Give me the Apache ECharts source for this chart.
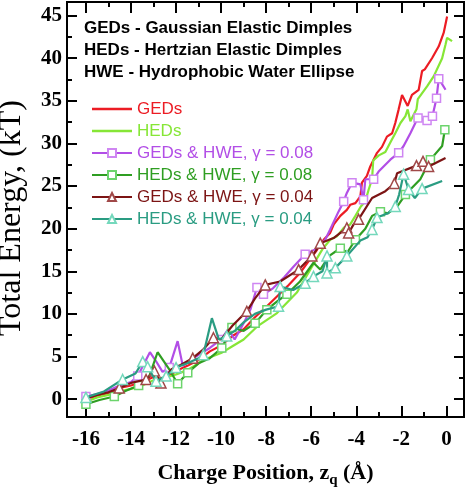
<!DOCTYPE html>
<html><head><meta charset="utf-8">
<script src="https://cdn.jsdelivr.net/npm/echarts@6/dist/echarts.min.js"></script>
<style>html,body{margin:0;padding:0;background:#fff}#c{width:466px;height:493px}</style>
</head><body><div id="c"></div>
<script>
// ---- tick values ----
const xMajor = [-16,-14,-12,-10,-8,-6,-4,-2,0];
const xMinor = [-15,-13,-11,-9,-7,-5,-3,-1];
const yMajor = [0,5,10,15,20,25,30,35,40,45];
const yMinor = [2.5,7.5,12.5,17.5,22.5,27.5,32.5,37.5,42.5];

// ---- series names / texts ----
const names = ['GEDs','HEDs','GEDs & HWE, \u03B3 = 0.08','HEDs & HWE, \u03B3 = 0.08','GEDs & HWE, \u03B3 = 0.04','HEDs & HWE, \u03B3 = 0.04'];
const notes = ['GEDs - Gaussian Elastic Dimples','HEDs - Hertzian Elastic Dimples','HWE - Hydrophobic Water Ellipse'];
const yTitle = 'Total Energy, (kT)';

// ---- data [charge position, total energy] ----
const gedPts = [[-16,0],[-15.5,0.4],[-15,0.7],[-14.5,1.3],[-14,1.6],[-13.5,2.0],[-13,2.6],[-12.5,2.3],[-12,3.3],[-11.5,3.9],[-11,4.6],[-10.5,5.6],[-10,6.3],[-9.5,7.4],[-9,8.2],[-8.5,9.6],[-8,10.8],[-7.5,12.1],[-7,13.4],[-6.5,14.8],[-6,16.6],[-5.75,17.5],[-5.45,18.7],[-5.16,19.5],[-5,20.5],[-4.71,21.5],[-4.42,22.2],[-4.27,22.8],[-4.04,23.0],[-3.82,23.8],[-3.75,25.4],[-3.53,26.2],[-3.38,27.3],[-3.08,28.9],[-2.86,29.6],[-2.64,30.8],[-2.41,31.2],[-2.27,32.4],[-2.12,34.0],[-1.97,35.7],[-1.72,34.4],[-1.53,35.7],[-1.23,36.3],[-1.08,38.5],[-0.96,38.7],[-0.64,40.0],[-0.34,41.4],[-0.12,43.0],[0.03,44.9]];
const hedPts = [[-16,-0.3],[-15.5,0.2],[-15,0.5],[-14.5,0.9],[-14,1.2],[-13.5,1.6],[-13,2.2],[-12.5,2.5],[-12,2.9],[-11.5,3.4],[-11,4.2],[-10.8,4.6],[-10,5.4],[-9.5,6.2],[-9,7.0],[-8.41,8.5],[-7.52,10.1],[-6.64,12.5],[-6,15.4],[-5.5,17.6],[-5.16,18.7],[-4.86,19.1],[-4.56,20.1],[-4.27,20.5],[-4.04,21.5],[-3.8,22.6],[-3.6,23.2],[-3.45,24.6],[-3.3,25.8],[-3.25,28.0],[-3.0,28.6],[-2.71,29.0],[-2.49,30.1],[-2.27,31.2],[-2.04,32.4],[-1.82,33.2],[-1.72,34.0],[-1.6,32.6],[-1.33,34.0],[-1.27,35.2],[-0.86,36.7],[-0.56,37.9],[-0.19,40.0],[-0.04,41.6],[0.03,42.4],[0.25,42.0]];
const gedHwe08Pts = [[-16,0.3],[-15.5,0.6],[-15,1.0],[-14.5,1.6],[-14,2.0],[-13.7,2.7],[-13.16,5.5],[-12.9,4.5],[-12.6,3.2],[-12.3,3.7],[-11.93,6.8],[-11.7,3.9],[-11.4,4.5],[-11,5.2],[-10.5,6.0],[-10,7.0],[-9.68,8.2],[-9.4,7.0],[-9,8.9],[-8.7,10.5],[-8.41,13.1],[-8.12,12.3],[-7.7,13.0],[-7.2,14.3],[-6.8,15.5],[-6.27,17.0],[-5.8,17.6],[-5.38,18.7],[-5.16,19.9],[-4.79,22.0],[-4.56,23.2],[-4.42,24.2],[-4.19,25.4],[-3.82,25.2],[-3.68,23.4],[-3.6,25.8],[-3.23,25.8],[-3.01,26.7],[-2.49,28.1],[-2.12,28.9],[-1.9,29.7],[-1.6,31.2],[-1.38,32.4],[-1.26,33.0],[-0.86,32.7],[-0.62,33.2],[-0.44,35.3],[-0.34,37.6],[-0.04,36.3]];
const gedHwe08Marks = [-16,-13.7,-12.3,-10,-8.41,-8.12,-6.27,-4.56,-4.19,-3.68,-3.23,-2.12,-1.26,-0.86,-0.62,-0.44,-0.34];
const hedHwe08Pts = [[-16,-0.6],[-15.4,-0.1],[-14.74,0.3],[-14.2,1.0],[-13.66,1.6],[-13.2,2.6],[-12.82,5.5],[-12.3,3.5],[-11.93,1.8],[-11.48,3.1],[-11,4.2],[-10.5,4.8],[-9.97,6.0],[-9.52,8.4],[-9,8.0],[-8.49,8.9],[-7.97,10.5],[-7.5,11.5],[-7.08,12.3],[-6.5,13.8],[-5.9,16.0],[-5.6,15.2],[-5.2,16.8],[-4.71,17.7],[-4.4,17.2],[-4.04,18.7],[-3.6,20.0],[-3.3,21.5],[-2.93,22.0],[-2.6,21.8],[-2.19,22.6],[-1.82,24.0],[-1.16,25.8],[-0.71,28.1],[-0.19,29.7],[-0.07,31.6]];
const hedHwe08Marks = [-16,-14.74,-13.66,-11.93,-11.48,-9.97,-9.52,-8.49,-7.97,-7.08,-4.71,-4.04,-2.93,-1.82,-0.71,-0.07];
const gedHwe04Pts = [[-16,0.1],[-15.5,0.5],[-15,0.8],[-14.52,1.3],[-14,1.9],[-13.33,2.3],[-12.96,3.3],[-12.67,1.9],[-12.2,3.5],[-11.8,4.0],[-11.26,4.8],[-10.8,5.8],[-10.34,7.2],[-10,7.0],[-9.5,8.6],[-8.86,10.3],[-8.5,11.8],[-8.04,13.4],[-7.38,13.8],[-6.56,15.2],[-5.97,16.8],[-5.82,17.3],[-5.6,18.3],[-5.01,18.9],[-4.42,20.1],[-4.34,19.5],[-4.12,20.5],[-3.9,21.1],[-3.3,23.6],[-2.71,24.4],[-2.31,25.3],[-2.19,26.5],[-1.33,27.4],[-1.04,27.9],[-0.79,27.3],[-0.04,28.3]];
const gedHwe04Marks = [-14.52,-13.33,-12.96,-12.67,-11.26,-10.34,-8.86,-8.04,-6.56,-5.97,-5.6,-4.42,-4.34,-3.9,-2.31,-1.33,-1.04,-0.79];
const hedHwe04Pts = [[-16,0.2],[-15.2,0.9],[-14.37,2.3],[-13.8,3.0],[-13.48,4.4],[-13.26,3.8],[-12.89,2.1],[-12.44,2.7],[-12.0,3.7],[-11.5,4.2],[-11.0,4.8],[-10.79,5.2],[-10.41,9.5],[-10.1,7.0],[-9.75,7.4],[-9.4,8.0],[-9.0,9.0],[-8.5,10.0],[-8.0,10.5],[-7.45,10.9],[-7.38,13.2],[-6.8,12.8],[-6.27,13.6],[-5.9,14.4],[-5.5,15.0],[-5.3,16.8],[-5.3,14.8],[-4.93,15.4],[-4.42,16.8],[-3.82,18.6],[-3.5,19.0],[-3.3,19.9],[-3.08,21.3],[-2.6,21.8],[-2.27,22.6],[-2.1,24.0],[-1.9,26.4],[-1.68,24.6],[-1.4,23.6],[-1.08,24.7],[-0.19,25.6]];
const hedHwe04Marks = [-16,-14.37,-13.48,-13.26,-12.89,-12.44,-12.0,-10.79,-9.75,-7.45,-7.38,-6.27,-5.9,-5.3,-4.93,-4.42,-3.3,-3.08,-2.27,-1.9,-1.68,-1.08];

const colors = ['#ec1c24','#86e636','#b24ee6','#2f9e22','#7c1414','#2a9c82'];
const markColors = ['#ec1c24','#86e636','#cf86f2','#6cd46c','#a04848','#74d8bc'];

const X_MIN = -16.84, X_MAX = 0.78, Y_MIN = -2.1, Y_MAX = 46.6;

function withMarks(pts, marks, sym) {
  return pts.map(p => ({ value: p, symbol: marks.includes(p[0]) ? sym : 'none' }));
}

const chart = echarts.init(document.getElementById('c'), null, {renderer:'canvas'});
const serif = 'Liberation Serif, Times New Roman, serif';
const sans = 'Liberation Sans, Arial, sans-serif';

function xAx(pos, major, show) {
  return {
    type:'value', min:X_MIN, max:X_MAX, position:pos,
    axisLine:{show:true, onZero:false, lineStyle:{color:'#000', width:2}},
    axisTick:{show:true, inside:true, length: major?11:5, customValues: major?xMajor:xMinor, lineStyle:{color:'#000', width:2}},
    axisLabel:{show:show, customValues:xMajor, margin:12, fontFamily:serif, fontWeight:'bold', fontSize:21, color:'#000'},
    splitLine:{show:false}
  };
}
function yAx(pos, major, show) {
  return {
    type:'value', min:Y_MIN, max:Y_MAX, position:pos,
    axisLine:{show:true, onZero:false, lineStyle:{color:'#000', width:2}},
    axisTick:{show:true, inside:true, length: major?10:5, customValues: major?yMajor:yMinor, lineStyle:{color:'#000', width:2}},
    axisLabel:{show:show, customValues:yMajor, margin:5, fontFamily:serif, fontWeight:'bold', fontSize:21, color:'#000'},
    splitLine:{show:false}
  };
}

const xAxes = [xAx('bottom',true,true), xAx('bottom',false,false), xAx('top',true,false), xAx('top',false,false)];
xAxes[0].name = '{a|Charge Position, z}{s|q}{a| (\u00C5)}';
xAxes[0].nameLocation = 'middle';
xAxes[0].nameGap = 42;
xAxes[0].nameTextStyle = {rich:{a:{fontFamily:serif, fontWeight:'bold', fontSize:22, color:'#000'}, s:{fontFamily:serif, fontWeight:'bold', fontSize:15, color:'#000', padding:[14,0,0,0]}}};
const yAxes = [yAx('left',true,true), yAx('left',false,false), yAx('right',true,false), yAx('right',false,false)];

const symbols = ['none','none','rect','rect','triangle','triangle'];
const dataSets = [
  gedPts,
  hedPts,
  withMarks(gedHwe08Pts, gedHwe08Marks, 'rect'),
  withMarks(hedHwe08Pts, hedHwe08Marks, 'rect'),
  withMarks(gedHwe04Pts, gedHwe04Marks, 'triangle'),
  withMarks(hedHwe04Pts, hedHwe04Marks, 'triangle')
];

const series = names.map((n,i) => ({
  name:n, type:'line', xAxisIndex:0, yAxisIndex:0,
  data: dataSets[i],
  symbol: symbols[i], symbolSize: symbols[i]==='triangle' ? 10 : 8,
  showAllSymbol:true,
  lineStyle:{color:colors[i], width:2.2},
  itemStyle:{color:'#fff', borderColor:markColors[i], borderWidth:1.5},
  emphasis:{disabled:true},
  animation:false, z: 2+i
}));

const lineIcon = 'path://M0,0 L40,0 L40,2.4 L0,2.4 Z';
const option = {
  animation:false,
  backgroundColor:'#fff',
  grid:{left:67, right:2, top:2, bottom:75, containLabel:false},
  xAxis: xAxes,
  yAxis: yAxes,
  legend:{
    orient:'vertical', left:86, top:95, itemWidth:40, itemHeight:10, itemGap:4,
    data: names.map((n,i)=> i < 2
      ? {name:n, icon:lineIcon, itemStyle:{color:colors[i], borderWidth:0}, textStyle:{color:colors[i]}}
      : {name:n, textStyle:{color:colors[i]}}),
    textStyle:{fontFamily:sans, fontSize:17, lineHeight:18, padding:[0,0,0,0]},
    selectedMode:false
  },
  graphic: notes.map((t,i)=>({
    type:'text', left:84, top: 20 + i*22,
    style:{text:t, font:'bold 17px ' + sans, fill:'#000'}
  })).concat([{
    type:'text', x:12, y:218, rotation:Math.PI/2,
    style:{text:yTitle, font:'32px ' + serif, fill:'#000', align:'center', verticalAlign:'middle'}
  }]),
  series
};
chart.setOption(option);
</script>
</body></html>
